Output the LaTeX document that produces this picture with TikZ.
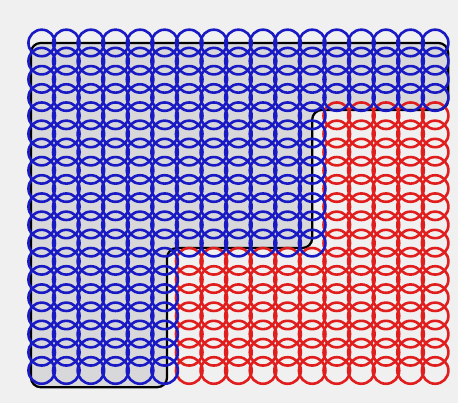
\documentclass[tikz,border=0pt]{standalone}
\definecolor{paper}{RGB}{240,240,240}
\definecolor{shade}{RGB}{216,216,218}
\definecolor{ringblue}{RGB}{26,26,196}
\definecolor{ringred}{RGB}{224,30,30}
\begin{document}
\begin{tikzpicture}[x=0.5cm,y=-0.37cm,
  bluering/.style={draw=ringblue,line width=1.5pt},
  redring/.style={draw=ringred,line width=1.5pt}]
\fill[paper] (-1.696,-2.36) rectangle (16.93,19.78);
\draw[line width=1.3pt,fill=shade,rounded corners=0.2cm] (-0.44,0) -- (16.53,0) -- (16.53,3.68) -- (11,3.68) -- (11,11.27) -- (5.1,11.27) -- (5.1,18.92) -- (-0.44,18.92) -- cycle;
\foreach \c in {12,...,16} \foreach \r in {4,...,11} \draw[redring] (\c,\r) circle[radius=0.27cm];
\foreach \c in {6,...,16} \foreach \r in {12,...,18} \draw[redring] (\c,\r) circle[radius=0.27cm];
\foreach \c in {0,...,16} \foreach \r in {0,...,3} \draw[bluering] (\c,\r) circle[radius=0.27cm];
\foreach \c in {0,...,11} \foreach \r in {4,...,11} \draw[bluering] (\c,\r) circle[radius=0.27cm];
\foreach \c in {0,...,5} \foreach \r in {12,...,18} \draw[bluering] (\c,\r) circle[radius=0.27cm];
\end{tikzpicture}
\end{document}
